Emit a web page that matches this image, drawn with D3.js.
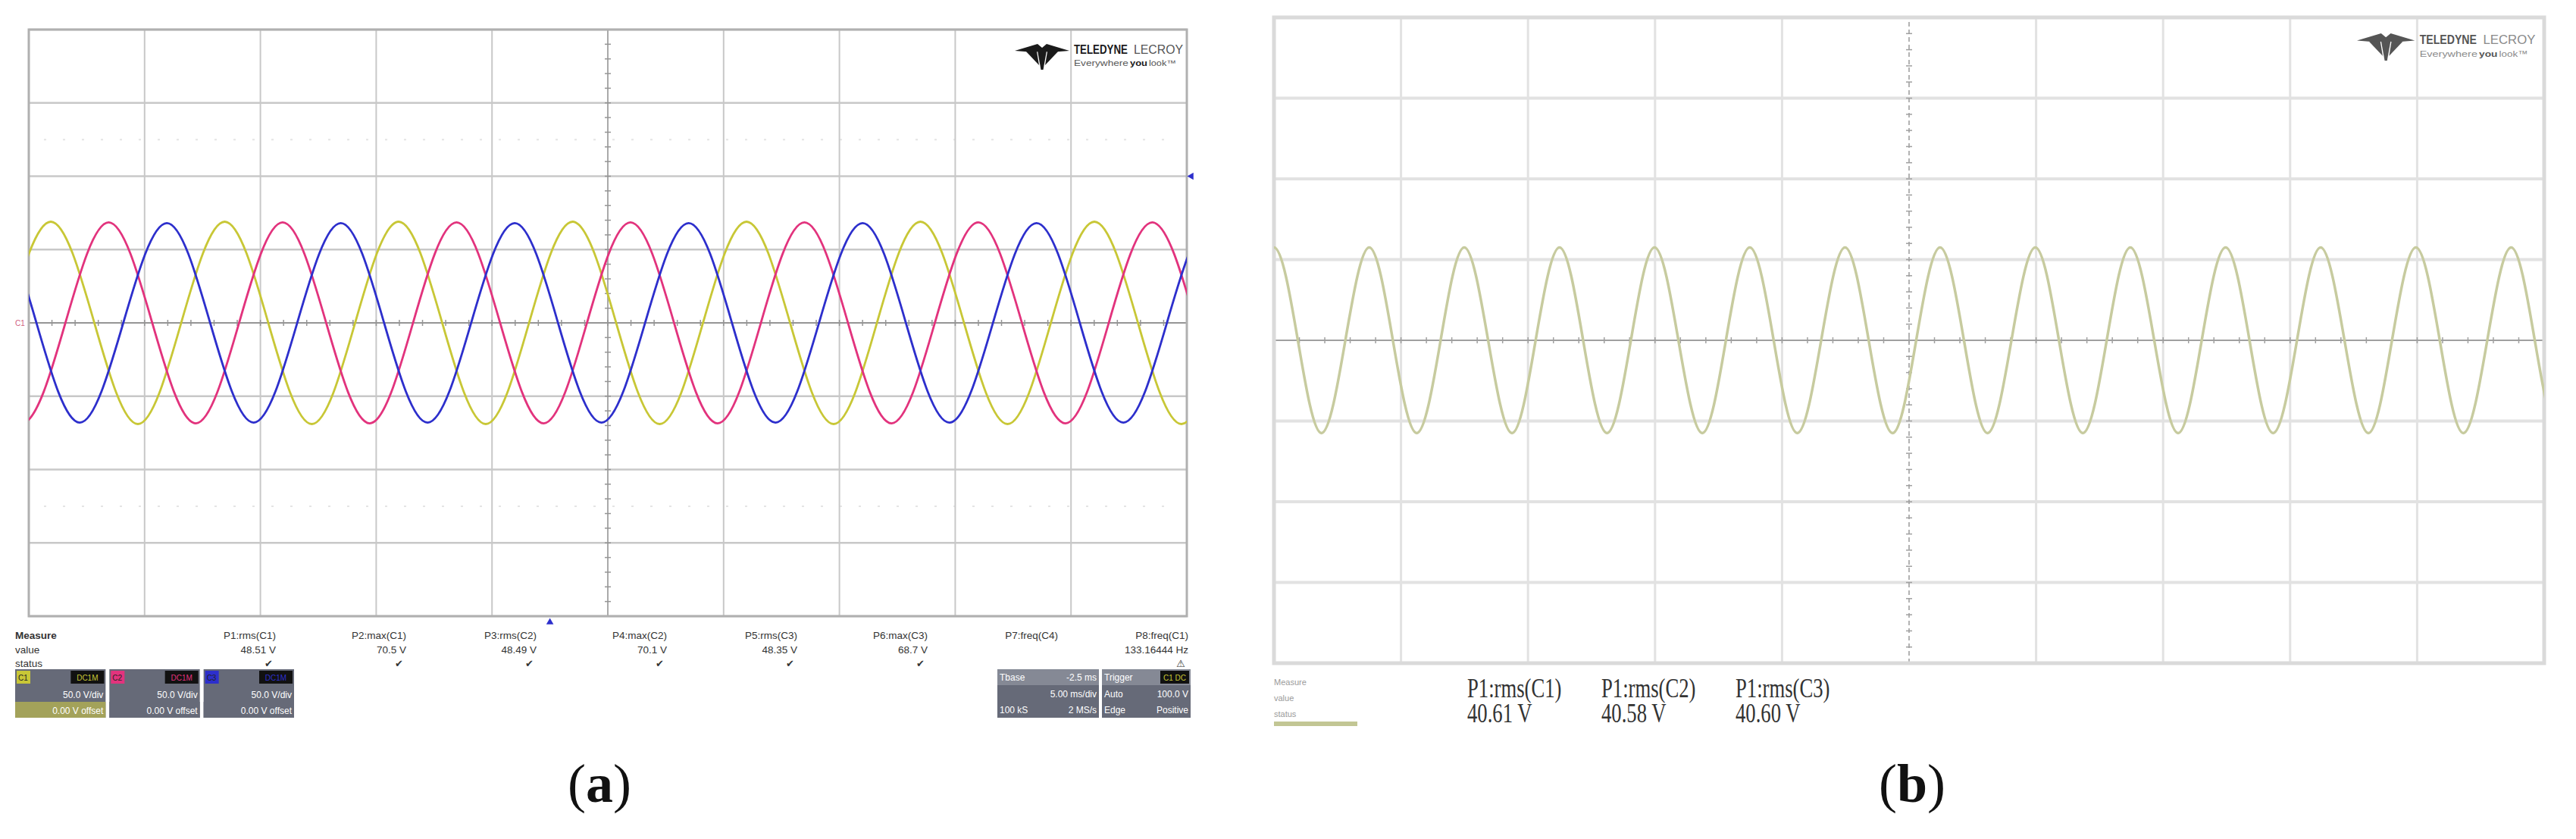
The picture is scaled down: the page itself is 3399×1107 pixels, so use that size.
<!DOCTYPE html>
<html>
<head>
<meta charset="utf-8">
<script src="https://cdn.jsdelivr.net/npm/d3@7"></script>
<style>
  body { margin: 0; background: #fff; }
  svg { display: block; font-family: "Liberation Sans", Arial, sans-serif; }
</style>
</head>
<body>
<div id="chart"></div>
<script>
const width = 3399;
const height = 1107;

//-------data: grid of the scope screen (5 ms/div, 50 V/div)-------//
const timeTicks = [0, 5, 10, 15, 20, 25, 30, 35, 40, 45, 50];
const voltTicks = [-200, -150, -100, -50, 0, 50, 100, 150, 200];
const faintRows = [125, -125];

//-------data (a): key points of each trace [ms] / [V]-------//
const c1Time = [-0.93, 0.95, 2.83, 4.71, 6.58, 8.46, 10.34, 12.22, 14.09, 15.97, 17.85, 19.73, 21.6, 23.48, 25.36,
  27.24, 29.11, 30.99, 32.87, 34.75, 36.62, 38.5, 40.38, 42.26, 44.13, 46.01, 47.89, 49.77, 51.65];
const c1Volt = [0, 69, 0, -69, 0, 69, 0, -69, 0, 69, 0, -69, 0, 69, 0,
  -69, 0, 69, 0, -69, 0, 69, 0, -69, 0, 69, 0, -69, 0];

const c2Time = [-2.18, -0.3, 1.58, 3.45, 5.33, 7.21, 9.08, 10.96, 12.84, 14.72, 16.59, 18.47, 20.35, 22.23, 24.1,
  25.98, 27.86, 29.74, 31.61, 33.49, 35.37, 37.25, 39.12, 41.0, 42.88, 44.76, 46.63, 48.51, 50.39];
const c2Volt = [0, -68.5, 0, 68.5, 0, -68.5, 0, 68.5, 0, -68.5, 0, 68.5, 0, -68.5, 0,
  68.5, 0, -68.5, 0, 68.5, 0, -68.5, 0, 68.5, 0, -68.5, 0, 68.5, 0];

const c3Time = [-3.43, -1.55, 0.33, 2.2, 4.08, 5.96, 7.83, 9.71, 11.59, 13.47, 15.34, 17.22, 19.1, 20.98, 22.85,
  24.73, 26.61, 28.49, 30.36, 32.24, 34.12, 36.0, 37.87, 39.75, 41.63, 43.51, 45.38, 47.26, 49.14, 51.02, 52.89];
const c3Volt = [0, 68, 0, -68, 0, 68, 0, -68, 0, 68, 0, -68, 0, 68, 0,
  -68, 0, 68, 0, -68, 0, 68, 0, -68, 0, 68, 0, -68, 0, 68, 0];

const channelNames = ["C1", "C2", "C3"];
const channelColors = ["#c8c736", "#e2337d", "#2d2fcc"];
const channelScales = ["50.0 V/div", "50.0 V/div", "50.0 V/div"];
const channelOffsets = ["0.00 V offset", "0.00 V offset", "0.00 V offset"];

const measureNamesA = ["P1:rms(C1)", "P2:max(C1)", "P3:rms(C2)", "P4:max(C2)", "P5:rms(C3)", "P6:max(C3)", "P7:freq(C4)", "P8:freq(C1)"];
const measureValuesA = ["48.51 V", "70.5 V", "48.49 V", "70.1 V", "48.35 V", "68.7 V", "", "133.16444 Hz"];
const measureStatusA = ["\u2714", "\u2714", "\u2714", "\u2714", "\u2714", "\u2714", "", "\u26A0"];

const tbaseRows = [["Tbase", "-2.5 ms"], ["", "5.00 ms/div"], ["100 kS", "2 MS/s"]];
const triggerRows = [["Trigger", ""], ["Auto", "100.0 V"], ["Edge", "Positive"]];

//-------data (b): key points of the single trace [ms] / [V]-------//
const bTime = [-0.94, 0, 0.94, 1.87, 2.81, 3.75, 4.68, 5.62, 6.56, 7.49, 8.43, 9.37, 10.3, 11.24, 12.17, 13.11,
  14.05, 14.98, 15.92, 16.86, 17.79, 18.73, 19.67, 20.6, 21.54, 22.48, 23.41, 24.35, 25.28, 26.22, 27.16,
  28.09, 29.03, 29.97, 30.9, 31.84, 32.78, 33.71, 34.65, 35.59, 36.52, 37.46, 38.4, 39.33, 40.27, 41.2,
  42.14, 43.08, 44.01, 44.95, 45.89, 46.82, 47.76, 48.7, 49.63, 50.57, 51.5];
const bVolt = [0, 57.5, 0, -57.5, 0, 57.5, 0, -57.5, 0, 57.5, 0, -57.5, 0, 57.5, 0, -57.5,
  0, 57.5, 0, -57.5, 0, 57.5, 0, -57.5, 0, 57.5, 0, -57.5, 0, 57.5, 0,
  -57.5, 0, 57.5, 0, -57.5, 0, 57.5, 0, -57.5, 0, 57.5, 0, -57.5, 0, 57.5,
  0, -57.5, 0, 57.5, 0, -57.5, 0, 57.5, 0, -57.5, 0];

const measureNamesB = ["P1:rms(C1)", "P1:rms(C2)", "P1:rms(C3)"];
const measureValuesB = ["40.61 V", "40.58 V", "40.60 V"];

const captions = ["a", "b"];

//-------set up svg + scales-------//
const svg = d3
  .select("#chart")
  .append("svg")
  .attr("width", width)
  .attr("height", height);

svg.append("rect").attr("width", width).attr("height", height).attr("fill", "#fff");

const boxA = { left: 38, right: 1566, top: 39, bottom: 813 };
const boxB = { left: 1681, right: 3357, top: 23, bottom: 875 };

const xA = d3.scaleLinear().domain([0, 50]).range([boxA.left, boxA.right]);
const yA = d3.scaleLinear().domain([-200, 200]).range([boxA.bottom, boxA.top]);
const xB = d3.scaleLinear().domain([0, 50]).range([boxB.left, boxB.right]);
const yB = d3.scaleLinear().domain([-200, 200]).range([boxB.bottom, boxB.top]);

//-------grid-------//
function drawGrid(g, x, y, st) {
  g.append("g")
    .selectAll("line")
    .data(timeTicks.filter((t) => t != 25))
    .join("line")
    .attr("x1", (d) => x(d))
    .attr("x2", (d) => x(d))
    .attr("y1", y(-200))
    .attr("y2", y(200))
    .attr("stroke", st.grid)
    .attr("stroke-width", st.gridW);
  g.append("g")
    .selectAll("line")
    .data(voltTicks.filter((v) => v != 0))
    .join("line")
    .attr("x1", x(0))
    .attr("x2", x(50))
    .attr("y1", (d) => y(d))
    .attr("y2", (d) => y(d))
    .attr("stroke", st.grid)
    .attr("stroke-width", st.hGridW);

  // center cross with minor ticks (every 1 ms / 10 V)
  g.append("line")
    .attr("x1", x(25)).attr("x2", x(25))
    .attr("y1", y(-200)).attr("y2", y(200))
    .attr("stroke", st.center)
    .attr("stroke-width", st.centerW)
    .attr("stroke-dasharray", st.dash);
  g.append("line")
    .attr("x1", x(0)).attr("x2", x(50))
    .attr("y1", y(0)).attr("y2", y(0))
    .attr("stroke", st.center)
    .attr("stroke-width", st.centerW + 0.5);
  g.append("g")
    .selectAll("line")
    .data(d3.range(1, 50))
    .join("line")
    .attr("x1", (d) => x(d)).attr("x2", (d) => x(d))
    .attr("y1", y(0) - 4).attr("y2", y(0) + 4)
    .attr("stroke", st.center)
    .attr("stroke-width", 1.5);
  g.append("g")
    .selectAll("line")
    .data(d3.range(-190, 200, 10))
    .join("line")
    .attr("x1", x(25) - 4).attr("x2", x(25) + 4)
    .attr("y1", (d) => y(d)).attr("y2", (d) => y(d))
    .attr("stroke", st.center)
    .attr("stroke-width", 1.5);

  g.append("rect")
    .attr("x", x(0))
    .attr("y", y(200))
    .attr("width", x(50) - x(0))
    .attr("height", y(-200) - y(200))
    .attr("fill", "none")
    .attr("stroke", st.border)
    .attr("stroke-width", st.borderW);
}

const gA = svg.append("g");
const gB = svg.append("g");

gA.append("g")
  .selectAll("line")
  .data(faintRows)
  .join("line")
  .attr("x1", xA(0) + 20).attr("x2", xA(50) - 20)
  .attr("y1", (d) => yA(d)).attr("y2", (d) => yA(d))
  .attr("stroke", "#e4e4e4")
  .attr("stroke-width", 2)
  .attr("stroke-dasharray", "3,22");

drawGrid(gA, xA, yA, {
  grid: "#c8c8c8", gridW: 2, hGridW: 2.5, center: "#959595", centerW: 1.6, dash: null,
  border: "#b0b0b0", borderW: 3,
});
drawGrid(gB, xB, yB, {
  grid: "#e2e2e2", gridW: 3, hGridW: 4, center: "#a0a0a0", centerW: 1.6, dash: "6,4",
  border: "#dadada", borderW: 5,
});

//-------traces-------//
svg.append("clipPath").attr("id", "clipA")
  .append("rect").attr("x", boxA.left).attr("y", boxA.top)
  .attr("width", boxA.right - boxA.left).attr("height", boxA.bottom - boxA.top);
svg.append("clipPath").attr("id", "clipB")
  .append("rect").attr("x", boxB.left).attr("y", boxB.top)
  .attr("width", boxB.right - boxB.left).attr("height", boxB.bottom - boxB.top);

const traceLine = (x, y) =>
  d3.line().x((d) => x(d[0])).y((d) => y(d[1])).curve(d3.curveNatural);

const tracesA = [
  d3.zip(c1Time, c1Volt),
  d3.zip(c2Time, c2Volt),
  d3.zip(c3Time, c3Volt),
];

gA.append("g")
  .attr("clip-path", "url(#clipA)")
  .selectAll("path")
  .data(tracesA)
  .join("path")
  .attr("fill", "none")
  .attr("stroke", (d, i) => channelColors[i])
  .attr("stroke-width", 2.8)
  .attr("stroke-linejoin", "round")
  .attr("d", traceLine(xA, yA));

gB.append("path")
  .attr("clip-path", "url(#clipB)")
  .datum(d3.zip(bTime, bVolt))
  .attr("fill", "none")
  .attr("stroke", "#c7cb9f")
  .attr("stroke-width", 3.5)
  .attr("d", traceLine(xB, yB));

//-------markers on (a)-------//
// trigger level (100 V) on right edge, trigger position under the grid
gA.append("path")
  .attr("d", d3.symbol(d3.symbolTriangle, 40)())
  .attr("transform", `translate(${boxA.right + 6},${yA(100)}) rotate(-90)`)
  .attr("fill", "#2d2fcc");
gA.append("path")
  .attr("d", d3.symbol(d3.symbolTriangle, 40)())
  .attr("transform", `translate(${xA(22.5)},${boxA.bottom + 8})`)
  .attr("fill", "#2d2fcc");
gA.append("text")
  .attr("x", 20)
  .attr("y", yA(0) + 4)
  .attr("font-size", 10)
  .attr("fill", "#d0607e")
  .text("C1");

//-------logos-------//
// words are squeezed horizontally to the width they take in the picture
function fitWord(sel) {
  sel.each(function (d) {
    const len = this.getComputedTextLength();
    d3.select(this).attr("transform", `translate(${d[1]},${d[5]}) scale(${d[2] / len},1)`);
  });
}
function drawLogo(g, x0, y0, s, ink, gray) {
  const lg = g.append("g").attr("transform", `translate(${x0},${y0}) scale(${s})`);
  const shapes = [
    "M0,10 L30,1 L36,6 L42,1 L72,10 L46,12 L36,10 L26,12 Z",
    "M30,10 L36,6 L42,10 L37.5,35 L34.5,35 Z",
    "M15,11 L29,11 L32,29 Z",
    "M57,11 L43,11 L40,29 Z",
  ];
  lg.selectAll("path").data(shapes).join("path").attr("d", (d) => d).attr("fill", ink);
  const words = [
    ["TELEDYNE", 78, 71, "bold", ink, 14, 16],
    ["LECROY", 157, 65, "normal", gray, 14, 16],
    ["Everywhere", 78, 72, "normal", gray, 30, 11],
    ["you", 152, 23, "bold", ink, 30, 11],
    ["look\u2122", 177, 36, "normal", gray, 30, 11],
  ];
  lg.selectAll("text")
    .data(words)
    .join("text")
    .attr("font-size", (d) => d[6])
    .attr("font-weight", (d) => d[3])
    .attr("fill", (d) => d[4])
    .text((d) => d[0])
    .call(fitWord);
}
drawLogo(gA, 1339, 57, 1, "#1a1a1a", "#555");
drawLogo(gB, 3110, 43, 1.06, "#555", "#8a8a8a");

//-------measure table (a)-------//
const colX = d3.scalePoint().domain(measureNamesA).range([364, 1568]);

const rowLabels = ["Measure", "value", "status"];
const rowY = [843, 862, 880];
gA.append("g")
  .selectAll("text")
  .data(rowLabels)
  .join("text")
  .attr("x", 20)
  .attr("y", (d, i) => rowY[i])
  .attr("font-size", 13.5)
  .attr("font-weight", (d, i) => (i == 0 ? "bold" : "normal"))
  .attr("fill", "#333")
  .text((d) => d);

const cols = gA.append("g")
  .selectAll("g")
  .data(measureNamesA)
  .join("g")
  .attr("transform", (d) => `translate(${colX(d)},0)`);
cols.append("text")
  .attr("y", rowY[0])
  .attr("text-anchor", "end")
  .attr("font-size", 13.5)
  .attr("fill", "#333")
  .text((d) => d);
cols.append("text")
  .attr("y", rowY[1])
  .attr("text-anchor", "end")
  .attr("font-size", 13.5)
  .attr("fill", "#333")
  .text((d, i) => measureValuesA[i]);
cols.append("text")
  .attr("x", -4)
  .attr("y", rowY[2])
  .attr("text-anchor", "end")
  .attr("font-size", 13)
  .style("font-family", "'DejaVu Sans', sans-serif")
  .attr("fill", "#333")
  .text((d, i) => measureStatusA[i]);

//-------channel boxes (a)-------//
const chBox = d3.scaleBand().domain(channelNames).range([20, 388]).paddingInner(0.04);
const boxTop = 883;
const boxH = 64;

const chG = gA.append("g")
  .selectAll("g")
  .data(channelNames)
  .join("g")
  .attr("transform", (d) => `translate(${chBox(d)},${boxTop})`);
chG.append("rect")
  .attr("width", chBox.bandwidth())
  .attr("height", boxH)
  .attr("fill", "#666a78");
chG.append("rect")
  .attr("y", 43)
  .attr("width", chBox.bandwidth())
  .attr("height", 21)
  .attr("fill", (d, i) => (i == 0 ? "#a3a25a" : "#666a78"));
chG.append("rect")
  .attr("x", 2).attr("y", 2)
  .attr("width", 18).attr("height", 17)
  .attr("fill", (d, i) => channelColors[i]);
chG.append("text")
  .attr("x", 4).attr("y", 15)
  .attr("font-size", 10)
  .attr("fill", "#222")
  .text((d) => d);
chG.append("rect")
  .attr("x", chBox.bandwidth() - 46).attr("y", 2)
  .attr("width", 44).attr("height", 17)
  .attr("fill", "#111");
chG.append("text")
  .attr("x", chBox.bandwidth() - 24).attr("y", 15)
  .attr("text-anchor", "middle")
  .attr("font-size", 10)
  .attr("fill", (d, i) => channelColors[i])
  .text("DC1M");
chG.append("text")
  .attr("x", chBox.bandwidth() - 3).attr("y", 38)
  .attr("text-anchor", "end")
  .attr("font-size", 12)
  .attr("fill", "#fff")
  .text((d, i) => channelScales[i]);
chG.append("text")
  .attr("x", chBox.bandwidth() - 3).attr("y", 59)
  .attr("text-anchor", "end")
  .attr("font-size", 12)
  .attr("fill", "#fff")
  .text((d, i) => channelOffsets[i]);

//-------timebase / trigger boxes (a)-------//
function infoBox(x0, w, rows, badge) {
  const g = gA.append("g").attr("transform", `translate(${x0},${boxTop})`);
  g.append("rect").attr("width", w).attr("height", boxH).attr("fill", "#666a78");
  g.append("rect").attr("width", w).attr("height", 21).attr("fill", "#858995");
  if (badge) {
    g.append("rect").attr("x", w - 40).attr("y", 2).attr("width", 38).attr("height", 17).attr("fill", "#111");
    g.append("text").attr("x", w - 21).attr("y", 15).attr("text-anchor", "middle")
      .attr("font-size", 10).attr("fill", "#c8c736").text("C1 DC");
  }
  const rg = g.selectAll("g").data(rows).join("g")
    .attr("transform", (d, i) => `translate(0,${[15, 37, 58][i]})`);
  rg.append("text").attr("x", 3).attr("font-size", 12).attr("fill", "#fff").text((d) => d[0]);
  rg.append("text").attr("x", w - 3).attr("text-anchor", "end").attr("font-size", 12)
    .attr("fill", "#fff").text((d) => d[1]);
}
infoBox(1316, 134, tbaseRows, false);
infoBox(1454, 117, triggerRows, true);

//-------measure table (b)-------//
gB.append("g")
  .selectAll("text")
  .data(rowLabels)
  .join("text")
  .attr("x", 1681)
  .attr("y", (d, i) => [904, 925, 946][i])
  .attr("font-size", 11)
  .attr("fill", "#9a9a9a")
  .text((d) => d);
gB.append("rect")
  .attr("x", 1681).attr("y", 952)
  .attr("width", 110).attr("height", 6)
  .attr("fill", "#c2c694");

const colB = d3.scalePoint().domain(measureNamesB).range([1936, 2290]);
const colsB = gB.append("g")
  .selectAll("g")
  .data(measureNamesB)
  .join("g");
colsB.append("text")
  .attr("transform", (d) => `translate(${colB(d)},920) scale(0.92,1.2)`)
  .style("font-family", "'Liberation Serif', 'Times New Roman', serif")
  .attr("font-size", 29)
  .attr("fill", "#333")
  .text((d) => d);
colsB.append("text")
  .attr("transform", (d) => `translate(${colB(d)},953) scale(0.92,1.2)`)
  .style("font-family", "'Liberation Serif', 'Times New Roman', serif")
  .attr("font-size", 29)
  .attr("fill", "#333")
  .text((d, i) => measureValuesB[i]);

//-------captions-------//
const capX = [791, xB(25) + 4];
const cap = svg.append("g")
  .selectAll("text")
  .data(captions)
  .join("text")
  .attr("x", (d, i) => capX[i])
  .attr("y", 1058)
  .attr("text-anchor", "middle")
  .style("font-family", "'Liberation Serif', 'Times New Roman', serif")
  .attr("font-size", 72)
  .attr("fill", "#111");
cap.append("tspan").text("(");
cap.append("tspan").attr("font-weight", "bold").text((d) => d);
cap.append("tspan").text(")");
</script>
</body>
</html>
